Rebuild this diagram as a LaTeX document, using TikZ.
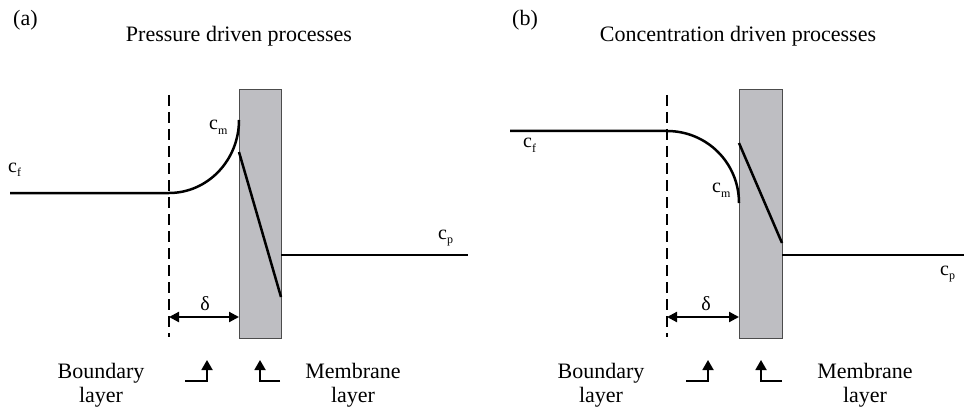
\documentclass[tikz,border=0pt]{standalone}
\usepackage{fontspec}
\setmainfont{Liberation Serif}
\usetikzlibrary{arrows.meta,positioning,calc}
\definecolor{membranegray}{RGB}{190,190,194}
\newcommand{\conc}[1]{c\raisebox{-0.45ex}{\fontsize{12}{12}\selectfont #1}}

\tikzset{
  txt/.style={font=\fontsize{22}{24}\selectfont, inner sep=0pt, align=center},
  conclabel/.style={font=\fontsize{20}{20}\selectfont, inner sep=0pt, anchor=base west},
  profile/.style={line width=2.5pt},
  blayer/.style={line width=2pt, dash pattern=on 11pt off 6pt},
  membranebox/.style={draw=black!70, line width=0.9pt, fill=membranegray},
  deltaarrow/.style={line width=2.2pt, {Triangle[width=10pt,length=10pt]}-{Triangle[width=10pt,length=10pt]}},
  bentarrow/.style={line width=1.8pt, -{Triangle[width=11pt,length=10pt]}},
}

\begin{document}
\begin{tikzpicture}[x=1pt,y=-1pt]
  \useasboundingbox (0,0) rectangle (964,409);

  % ---------------- (a) pressure driven ----------------
  \node[txt, anchor=base west] (labA) at (13,26) {(a)};
  \node[txt, anchor=base] (titleA) at (239,42) {Pressure driven processes};

  % membrane
  \draw[membranebox] (239,89) rectangle (281,338);
  % boundary layer edge
  \coordinate (dtopA) at (169,95);
  \coordinate (dbotA) at (169,337);
  \draw[blayer] (dtopA) -- (dbotA);

  % concentration profile
  \coordinate (fA) at (10,193);
  \coordinate (dA) at (169,193);
  \coordinate (mA) at (239,120);
  \draw[profile] (fA) -- (dA) .. controls ($(dA)+(39,0)$) and ($(mA)+(0,40)$) .. (mA);
  \coordinate (minA) at (239,152);
  \coordinate (moutA) at (281,297);
  \draw[profile] (minA) -- (moutA);
  \coordinate (pA) at (281,255);
  \coordinate (pendA) at (468,255);
  \draw[profile] (pA) -- (pendA);

  \node[conclabel] (cfA) at (8,172) {\conc{f}};
  \node[conclabel] (cmA) at (209,130) {\conc{m}};
  \node[conclabel] (cpA) at (438,239) {\conc{p}};

  % boundary layer thickness
  \coordinate (dlA) at (169,317);
  \coordinate (drA) at (239,317);
  \draw[deltaarrow] (dlA) -- (drA);
  \node[conclabel, anchor=base] (deltaA) at (205,310) {δ};

  % layer labels
  \node[txt, anchor=base] (boundA) at (101,402) {Boundary\\layer};
  \node[txt, anchor=base] (membA) at (353,402) {Membrane\\layer};
  \coordinate (bl1A) at (185,381);
  \coordinate (bl2A) at (207,360);
  \draw[bentarrow] (bl1A) -| (bl2A);
  \coordinate (ml1A) at (280,381);
  \coordinate (ml2A) at (260,360);
  \draw[bentarrow] (ml1A) -| (ml2A);

  % ---------------- (b) concentration driven ----------------
  \node[txt, anchor=base west] (labB) at (512,26) {(b)};
  \node[txt, anchor=base] (titleB) at (738,42) {Concentration driven processes};

  % membrane
  \draw[membranebox] (739,89) rectangle (782,338);
  % boundary layer edge
  \coordinate (dtopB) at (667,95);
  \coordinate (dbotB) at (667,337);
  \draw[blayer] (dtopB) -- (dbotB);

  % concentration profile
  \coordinate (fB) at (510,131);
  \coordinate (dB) at (667,131);
  \coordinate (mB) at (739,203);
  \draw[profile] (fB) -- (dB) .. controls ($(dB)+(40,0)$) and ($(mB)+(0,-40)$) .. (mB);
  \coordinate (minB) at (739,143);
  \coordinate (moutB) at (782,243);
  \draw[profile] (minB) -- (moutB);
  \coordinate (pB) at (782,255);
  \coordinate (pendB) at (964,255);
  \draw[profile] (pB) -- (pendB);

  \node[conclabel] (cfB) at (523,148) {\conc{f}};
  \node[conclabel] (cmB) at (712,193) {\conc{m}};
  \node[conclabel] (cpB) at (940,275) {\conc{p}};

  % boundary layer thickness
  \coordinate (dlB) at (667,317);
  \coordinate (drB) at (739,317);
  \draw[deltaarrow] (dlB) -- (drB);
  \node[conclabel, anchor=base] (deltaB) at (706,310) {δ};

  % layer labels
  \node[txt, anchor=base] (boundB) at (601,402) {Boundary\\layer};
  \node[txt, anchor=base] (membB) at (865,402) {Membrane\\layer};
  \coordinate (bl1B) at (686,381);
  \coordinate (bl2B) at (708,360);
  \draw[bentarrow] (bl1B) -| (bl2B);
  \coordinate (ml1B) at (782,381);
  \coordinate (ml2B) at (761,360);
  \draw[bentarrow] (ml1B) -| (ml2B);
\end{tikzpicture}
\end{document}
